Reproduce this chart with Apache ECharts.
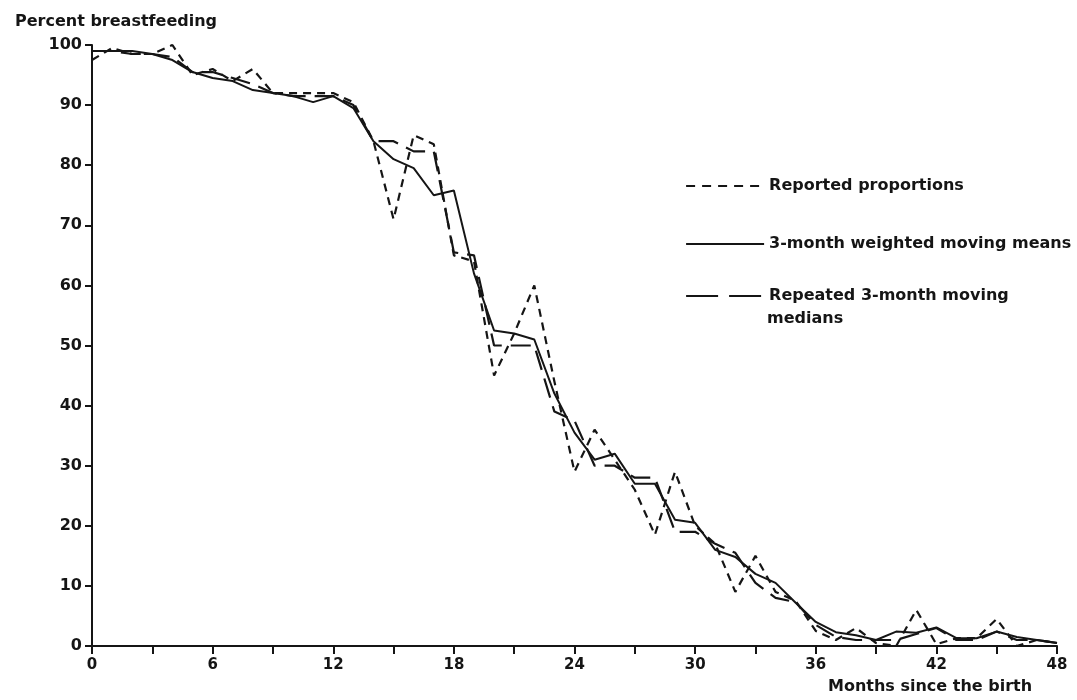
<!DOCTYPE HTML>
<html>
	<head>
		<meta http-equiv="Content-type" content="text/html; charset=UTF-8" />
		<script type="text/javascript" src="https://cdn.jsdelivr.net/npm/echarts@6/dist/echarts.min.js"></script>
		<style>
			body { margin: 0; background: #fff; }
		</style>
	</head>
	<body>
		<div id="div_1" style="width: 1077px;height:700px;"></div>
	</body>
</html>

<script>
	// months since birth (x values)
	var months = [0, 1, 2, 3, 4, 5, 6, 7, 8, 9, 10, 11, 12, 13, 14, 15, 16, 17, 18, 19, 20, 21, 22, 23, 24,
		25, 26, 27, 28, 29, 30, 31, 32, 33, 34, 35, 36, 37, 38, 39, 40, 41, 42, 43, 44, 45, 46, 47, 48]

	// percent breastfeeding
	var reported = [97.5, 99.5, 98.5, 98.5, 100, 95, 96, 94, 96, 92,
		92, 92, 92, 90.5, 84, 71, 85, 83.5, 65, 64,
		45, 52, 60, 44, 29, 36, 31, 26, 18.5, 29,
		20, 17, 9, 15, 9, 7.5, 2.5, 1, 3, 0.5,
		0, 6, 0.3, 1.3, 1.3, 4.5, 0, 1, 0.5]

	var weightedMeans = [99, 99, 99, 98.5, 97.5, 95.5, 94.5, 94, 92.5, 92,
		91.5, 90.5, 91.5, 89.5, 84, 81, 79.5, 75, 75.8, 62,
		52.5, 52, 51, 42, 35.5, 31, 32, 27, 27, 21,
		20.5, 16, 14.8, 12, 10.5, 7.2, 4, 2.3, 1.8, 1.0,
		2.4, 2.2, 3.1, 1.3, 1.3, 2.4, 1.5, 1.0, 0.5]

	var movingMedians = [99, 99, 98.5, 98.5, 98, 95.5, 95.5, 94.5, 93.5, 92,
		91.5, 91.5, 91.5, 90, 84, 84, 82.3, 82.3, 65.5, 65,
		50, 50, 50, 39, 37.5, 30, 30, 28, 28, 19,
		19, 17, 15.5, 10.5, 8, 7.3, 3.5, 1.5, 1, 1,
		1, 2, 3, 1, 1, 2.4, 1, 1, 0.5]

	var seriesNames = ['Reported proportions', '3-month weighted moving means', 'Repeated 3-month moving']

	function pairs(values) {
		return months.map(function (m, i) {
			return [m, values[i]];
		});
	}

	var ink = '#151515'
	var font = 'DejaVu Sans'

	var boldText = {
		color: ink,
		fontFamily: font,
		fontWeight: 'bold',
		fontSize: 16
	}

	// one legend per entry so each row can sit where the original has it
	function oneLegend(name, top, dash) {
		return {
			data: [name],
			left: 680,
			top: top,
			itemWidth: 78,
			itemHeight: 12,
			itemGap: 6,
			selectedMode: false,
			itemStyle: { color: 'rgba(0,0,0,0)', borderWidth: 0, opacity: 0 },
			lineStyle: { type: dash, width: 2.2 },
			textStyle: boldText
		};
	}

	var myChart = echarts.init(document.getElementById("div_1"))
	var option = {
		backgroundColor: '#fff',
		animation: false,
		title: [{
			text: 'Percent breastfeeding',
			left: 10,
			top: 9,
			textStyle: boldText
		}, {
			text: 'Months since the birth',
			left: 823,
			top: 674,
			textStyle: boldText
		}, {
			text: 'medians',
			left: 762,
			top: 306,
			textStyle: boldText
		}],
		legend: [
			oneLegend(seriesNames[0], 173, [9, 7]),
			oneLegend(seriesNames[1], 231, 'solid'),
			oneLegend(seriesNames[2], 283, [32, 11])
		],
		grid: {
			left: 92,
			right: 20,
			top: 45,
			bottom: 54
		},
		xAxis: {
			type: 'value',
			min: 0,
			max: 48,
			interval: 3,
			axisLine: { lineStyle: { color: ink, width: 2 } },
			axisTick: { length: 8, lineStyle: { color: ink, width: 2 } },
			axisLabel: {
				margin: 12,
				color: ink,
				fontFamily: font,
				fontWeight: 'bold',
				fontSize: 15,
				formatter: function (v) {
					return v % 6 === 0 ? v : '';
				}
			},
			splitLine: { show: false }
		},
		yAxis: {
			type: 'value',
			min: 0,
			max: 100,
			interval: 10,
			axisLine: { show: true, lineStyle: { color: ink, width: 2 } },
			axisTick: { show: true, length: 7, lineStyle: { color: ink, width: 2 } },
			axisLabel: {
				margin: 10,
				color: ink,
				fontFamily: font,
				fontWeight: 'bold',
				fontSize: 16
			},
			splitLine: { show: false }
		},
		series: [{
			name: seriesNames[0],
			type: 'line',
			data: pairs(reported),
			showSymbol: false,
			symbol: 'none',
			color: ink,
			lineStyle: { color: ink, width: 2.2, type: [8, 6] }
		}, {
			name: seriesNames[1],
			type: 'line',
			data: pairs(weightedMeans),
			showSymbol: false,
			symbol: 'none',
			color: ink,
			lineStyle: { color: ink, width: 2 }
		}, {
			name: seriesNames[2],
			type: 'line',
			data: pairs(movingMedians),
			showSymbol: false,
			symbol: 'none',
			color: ink,
			lineStyle: { color: ink, width: 2.2, type: [20, 9] }
		}]
	};
	myChart.setOption(option)
</script>
